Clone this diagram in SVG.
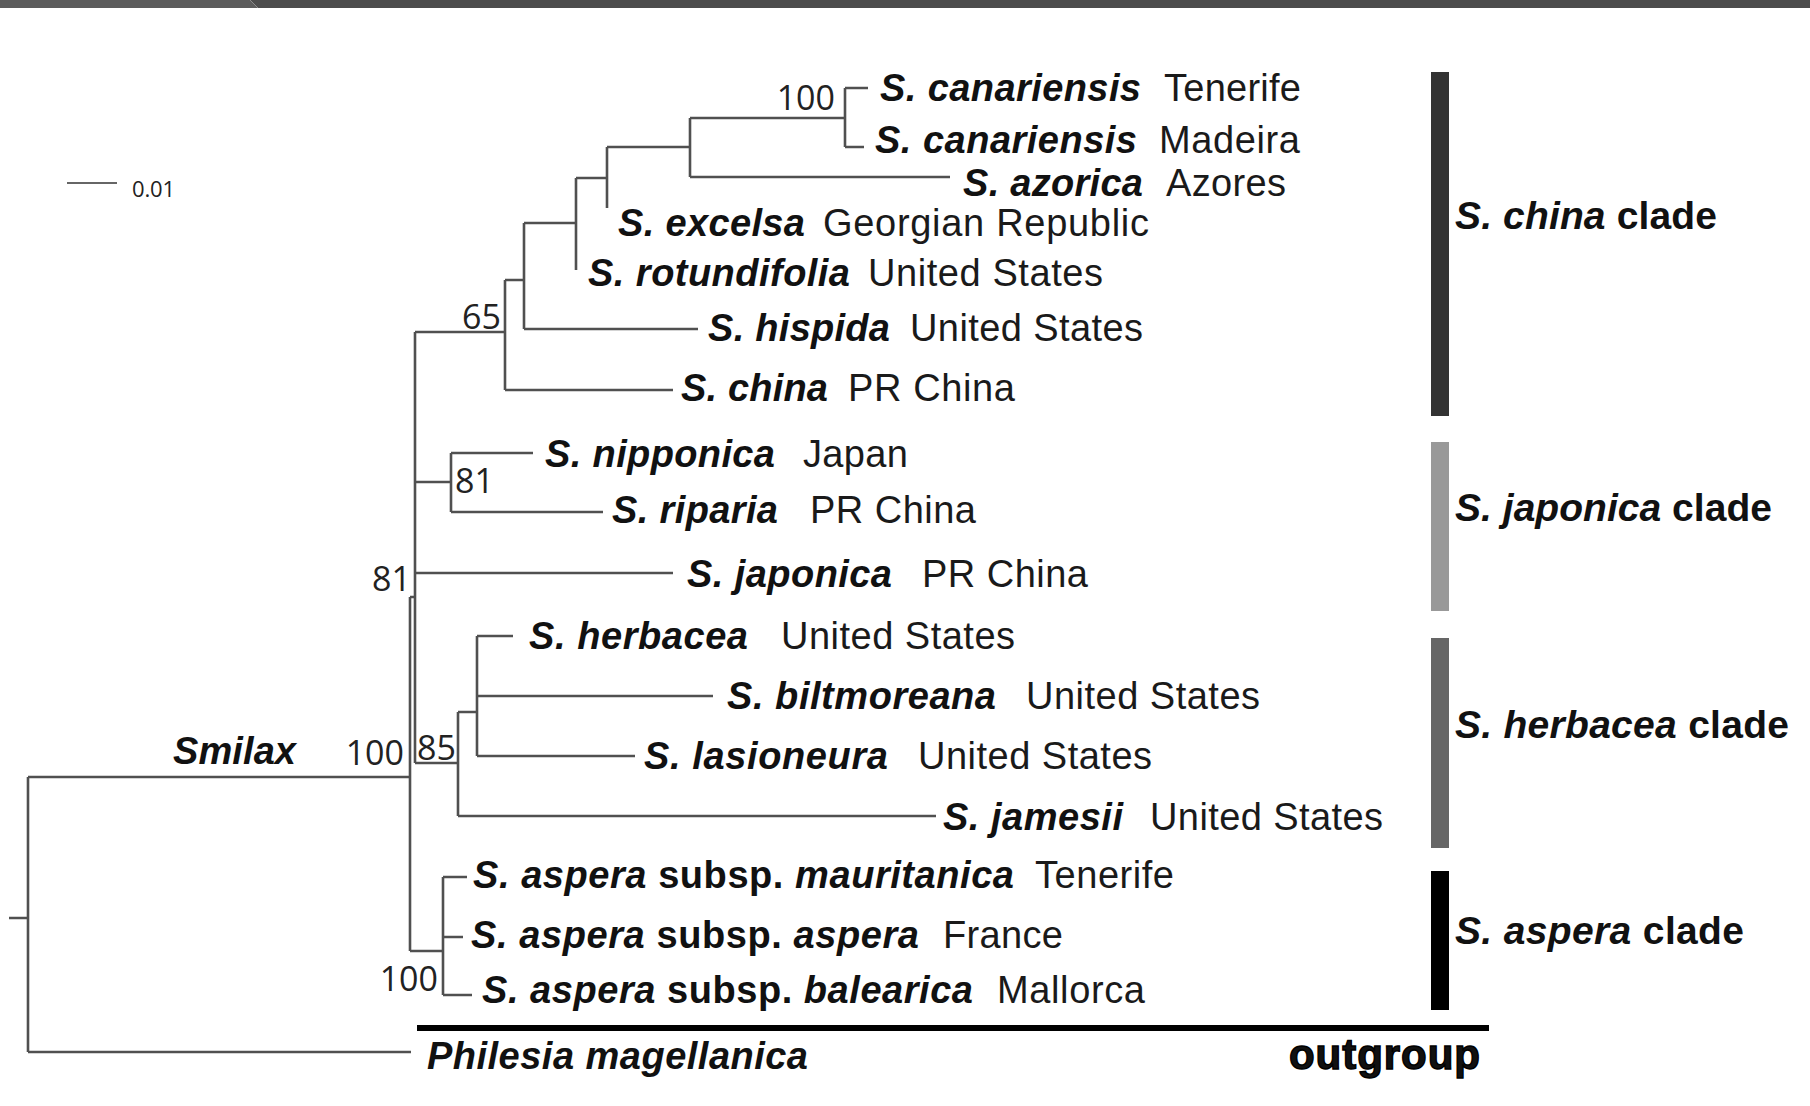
<svg xmlns="http://www.w3.org/2000/svg" width="1810" height="1106" viewBox="0 0 1810 1106">
<style>
.t{font-family:"Liberation Sans",Arial,sans-serif;font-size:38px;fill:#111}
.sp{font-weight:bold;font-style:italic}
.ss{font-weight:bold;font-style:normal}
.loc{font-weight:normal;fill:#1a1a1a}
.bs{font-family:"Open Sans","Liberation Sans",sans-serif;font-size:34px;fill:#222}
.cl{font-family:"Liberation Sans",Arial,sans-serif;font-size:39px;font-weight:bold;fill:#111}
.br{fill:none;stroke:#505050;stroke-width:2.6}
</style>
<rect x="0" y="0" width="1810" height="1106" fill="#fff"/>
<g id="topbar">
<rect x="0" y="0" width="1810" height="8" fill="#4c4c4c"/>
<polygon points="0,0 250,0 258,8 0,8" fill="#5c5c5c"/>
<line x1="250" y1="0" x2="258" y2="8" stroke="#8a8a8a" stroke-width="1"/>
</g>
<g id="scale">
<line x1="67" y1="183" x2="117" y2="183" stroke="#666" stroke-width="2"/>
<text x="132" y="197" class="bs" style="font-size:22px" textLength="43">0.01</text>
</g>
<g id="connectors" class="br">
<path d="M9,918 H28 M28,777 V1052 M28,777 H410 M28,1052 H411"/>
<path d="M410,597 V951 M410,597 H415 M410,951 H443"/>
<path d="M415,332 V763"/>
<path d="M415,332 H505 M505,280 V390 M505,390 H673"/>
<path d="M505,280 H524 M524,223 V329 M524,329 H698"/>
<path d="M524,223 H576 M576,178 V270"/>
<path d="M576,178 H607 M607,147 V208"/>
<path d="M607,147 H690 M690,118 V177 M690,177 H950"/>
<path d="M690,118 H845 M845,88 V147 M845,88 H868 M845,147 H864"/>
<path d="M415,482 H451 M451,453 V512 M451,453 H533 M451,512 H603 M415,573 H673"/>
<path d="M415,763 H458 M458,712 V816 M458,816 H936 M458,712 H477 M477,636 V756 M477,636 H513 M477,696 H713 M477,756 H635"/>
<path d="M443,877 V995 M443,877 H467 M443,937 H463 M443,995 H472"/>
</g>
<g id="support">
<text class="bs" x="835" y="110" text-anchor="end">100</text>
<text class="bs" x="501" y="329" text-anchor="end">65</text>
<text class="bs" x="455" y="493">81</text>
<text class="bs" x="411" y="591" text-anchor="end">81</text>
<text class="bs" x="404" y="765" text-anchor="end">100</text>
<text class="bs" x="417" y="760">85</text>
<text class="bs" x="438" y="991" text-anchor="end">100</text>
</g>
<g id="smilax-label"><text class="t sp" x="173" y="764" textLength="123">Smilax</text></g>
<g id="leaf-canariensis-tenerife"><text class="t sp" x="880" y="101" textLength="261">S. canariensis</text><text class="t loc" x="1164" y="101" textLength="137">Tenerife</text></g>
<g id="leaf-canariensis-madeira"><text class="t sp" x="875" y="153" textLength="262">S. canariensis</text><text class="t loc" x="1159" y="153" textLength="141">Madeira</text></g>
<g id="leaf-azorica"><text class="t sp" x="963" y="196" textLength="180">S. azorica</text><text class="t loc" x="1166" y="196" textLength="120">Azores</text></g>
<g id="leaf-excelsa"><text class="t sp" x="618" y="236" textLength="187">S. excelsa</text><text class="t loc" x="823" y="236" textLength="326">Georgian Republic</text></g>
<g id="leaf-rotundifolia"><text class="t sp" x="588" y="286" textLength="262">S. rotundifolia</text><text class="t loc" x="868" y="286" textLength="235">United States</text></g>
<g id="leaf-hispida"><text class="t sp" x="708" y="341" textLength="182">S. hispida</text><text class="t loc" x="910" y="341" textLength="233">United States</text></g>
<g id="leaf-china"><text class="t sp" x="681" y="401" textLength="147">S. china</text><text class="t loc" x="848" y="401" textLength="167">PR China</text></g>
<g id="leaf-nipponica"><text class="t sp" x="545" y="467" textLength="230">S. nipponica</text><text class="t loc" x="803" y="467" textLength="105">Japan</text></g>
<g id="leaf-riparia"><text class="t sp" x="612" y="523" textLength="166">S. riparia</text><text class="t loc" x="810" y="523" textLength="166">PR China</text></g>
<g id="leaf-japonica"><text class="t sp" x="687" y="587" textLength="205">S. japonica</text><text class="t loc" x="922" y="587" textLength="166">PR China</text></g>
<g id="leaf-herbacea"><text class="t sp" x="529" y="649" textLength="219">S. herbacea</text><text class="t loc" x="781" y="649" textLength="234">United States</text></g>
<g id="leaf-biltmoreana"><text class="t sp" x="727" y="709" textLength="269">S. biltmoreana</text><text class="t loc" x="1026" y="709" textLength="234">United States</text></g>
<g id="leaf-lasioneura"><text class="t sp" x="644" y="769" textLength="244">S. lasioneura</text><text class="t loc" x="918" y="769" textLength="234">United States</text></g>
<g id="leaf-jamesii"><text class="t sp" x="943" y="830" textLength="180">S. jamesii</text><text class="t loc" x="1150" y="830" textLength="233">United States</text></g>
<g id="leaf-mauritanica"><text class="t" x="473" y="888" textLength="541"><tspan class="sp">S. aspera</tspan><tspan class="ss"> subsp. </tspan><tspan class="sp">mauritanica</tspan></text><text class="t loc" x="1035" y="888" textLength="139">Tenerife</text></g>
<g id="leaf-aspera"><text class="t" x="471" y="948" textLength="448"><tspan class="sp">S. aspera</tspan><tspan class="ss"> subsp. </tspan><tspan class="sp">aspera</tspan></text><text class="t loc" x="943" y="948" textLength="120">France</text></g>
<g id="leaf-balearica"><text class="t" x="482" y="1003" textLength="491"><tspan class="sp">S. aspera</tspan><tspan class="ss"> subsp. </tspan><tspan class="sp">balearica</tspan></text><text class="t loc" x="997" y="1003" textLength="148">Mallorca</text></g>
<g id="leaf-philesia"><text class="t sp" x="427" y="1069" textLength="381">Philesia magellanica</text></g>
<g id="outgroup"><line x1="417" y1="1028" x2="1489" y2="1028" stroke="#000" stroke-width="6"/><text class="t" x="1289" y="1069" textLength="191" style="font-size:42px;font-weight:900;stroke:#000;stroke-width:1.4">outgroup</text></g>
<g id="clade-china"><rect x="1431" y="72" width="18" height="344" fill="#333"/><text class="cl" x="1455" y="229" textLength="262"><tspan font-style="italic">S. china</tspan> clade</text></g>
<g id="clade-japonica"><rect x="1431" y="442" width="18" height="169" fill="#999"/><text class="cl" x="1455" y="521" textLength="317"><tspan font-style="italic">S. japonica</tspan> clade</text></g>
<g id="clade-herbacea"><rect x="1431" y="638" width="18" height="210" fill="#666"/><text class="cl" x="1455" y="738" textLength="334"><tspan font-style="italic">S. herbacea</tspan> clade</text></g>
<g id="clade-aspera"><rect x="1431" y="871" width="18" height="139" fill="#000"/><text class="cl" x="1455" y="944" textLength="289"><tspan font-style="italic">S. aspera</tspan> clade</text></g>
</svg>
